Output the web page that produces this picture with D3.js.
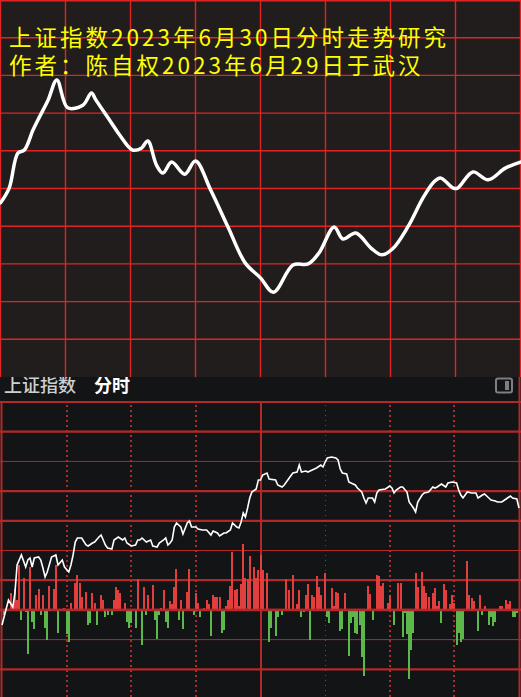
<!DOCTYPE html>
<html><head><meta charset="utf-8">
<script src="https://cdn.jsdelivr.net/npm/d3@7"></script>
<style>html,body{margin:0;padding:0;background:#131416;overflow:hidden}</style>
</head><body>
<svg id="c" width="521" height="697"></svg>
<script>
// ---------- DATA ----------
const titleLines = ["上证指数2023年6月30日分时走势研究", "作者：陈自权2023年6月29日于武汉"];
const panelTitle = "上证指数";
const panelMode = "分时";

// Forecast curve (top panel): minute of session, index level
const forecastMinutes = [0,4,8,11,15,18,22,26,31,38,42,44,51,55,61,65,68,72,75,79,85,90,97,105,113,120,126,135,142,147,154,158,164,171,176,181,188,195,200,203,209,211,218,225,233,240];
const forecastValues = [3196.2,3200.1,3209.4,3210.2,3215.5,3219.0,3223.5,3228.8,3221.4,3222.1,3225.3,3223.5,3217.6,3214.2,3210.2,3210.7,3212.6,3206.2,3204.1,3207.0,3203.8,3207.3,3199.6,3189.8,3180.2,3176.3,3172.5,3179.7,3180.0,3182.9,3189.8,3186.6,3188.2,3184.2,3182.4,3184.0,3189.8,3197.5,3201.7,3202.8,3200.1,3200.1,3204.4,3202.3,3205.4,3207.0];

// Actual intraday price (bottom panel)
const priceMinutes = [0,3,5,6,7,9,11,12,13,14,15,17,18,19,20,21,23,25,26,28,29,31,32,33,34,35,37,39,40,42,43,45,46,47,48,49,51,52,54,56,57,58,60,62,63,64,65,67,69,70,72,73,75,76,77,78,79,80,81,83,84,86,87,88,90,91,93,95,97,98,100,101,103,104,106,107,109,110,111,112,113,114,115,116,118,119,120,121,123,124,127,128,130,131,133,135,137,138,139,141,142,144,146,148,149,150,151,153,155,156,157,158,160,161,162,164,165,167,168,169,170,172,173,174,175,178,180,181,182,183,185,186,188,189,191,192,193,195,196,198,200,201,202,204,206,207,209,211,212,213,214,216,218,220,221,223,224,226,227,229,230,232,234,236,237,239,240];
const priceValues = [3174.0,3179.0,3177.6,3180.4,3186.0,3188.0,3185.6,3187.0,3187.4,3185.6,3187.4,3187.6,3187.0,3185.4,3183.6,3184.6,3187.6,3188.0,3186.0,3187.0,3185.6,3184.6,3186.0,3188.0,3190.6,3191.4,3191.4,3190.0,3189.8,3190.4,3190.6,3191.6,3192.0,3191.0,3190.0,3189.4,3189.2,3191.0,3191.6,3191.0,3191.4,3190.4,3189.8,3190.0,3191.0,3191.0,3191.4,3190.6,3191.0,3189.8,3189.6,3190.4,3191.0,3191.4,3190.0,3190.4,3191.0,3193.6,3194.4,3193.6,3192.2,3194.4,3194.8,3193.6,3193.6,3193.2,3193.0,3193.0,3192.0,3192.8,3192.4,3191.8,3192.4,3192.4,3193.0,3194.4,3193.6,3193.4,3194.6,3196.4,3195.6,3197.4,3199.4,3200.6,3201.2,3203.0,3203.0,3204.0,3204.4,3203.2,3203.0,3202.0,3201.6,3202.0,3203.2,3204.4,3204.6,3206.0,3204.6,3204.8,3204.6,3205.0,3205.4,3206.0,3205.6,3206.6,3207.4,3207.6,3207.4,3207.0,3205.2,3204.4,3204.2,3202.6,3202.4,3202.0,3201.4,3200.6,3199.4,3198.4,3199.4,3199.4,3198.6,3200.4,3201.0,3201.2,3201.8,3201.4,3200.4,3201.0,3201.6,3201.6,3200.6,3198.6,3197.4,3196.6,3198.6,3200.0,3200.4,3200.6,3201.6,3201.4,3201.6,3202.2,3201.6,3202.4,3202.6,3202.4,3201.0,3200.0,3199.4,3200.6,3200.4,3200.4,3199.4,3200.0,3200.2,3199.4,3199.0,3198.8,3198.6,3198.6,3199.2,3199.8,3199.4,3199.2,3197.4];

// Signed volume bars (positive = red, negative = green)
const barMinutes = [1,4,5,6,7,8,9,10,11,12,13,14,15,16,17,18,19,20,21,22,24,25,26,29,30,31,32,34,35,36,37,39,40,41,42,43,44,46,47,48,49,51,52,53,54,55,57,58,59,60,62,63,65,66,67,68,70,71,72,73,74,75,76,77,78,79,80,81,82,83,84,86,87,89,90,91,92,94,95,96,97,98,99,100,101,102,103,104,105,106,107,108,109,110,111,112,113,114,115,117,118,119,120,121,123,124,125,127,128,130,132,133,135,137,138,139,140,141,142,143,144,145,146,147,148,150,151,152,153,154,155,156,157,158,159,161,162,163,164,165,166,167,168,170,171,172,174,175,176,177,179,180,182,184,185,186,187,188,189,190,191,192,193,195,196,197,198,200,201,202,203,204,205,206,208,209,210,211,212,213,214,216,217,218,219,221,222,223,224,226,227,228,229,231,232,234,235,236,237,238,239];
const barValues = [-5,17,6,21,10,45,-10,32,-2,-44,43,-12,-19,15,21,-5,15,-18,-30,24,21,45,-23,2,-24,-32,7,27,35,27,13,18,-15,-13,17,7,-15,15,10,-7,-5,-5,10,23,20,17,7,-12,-18,-13,-18,31,-35,23,-5,15,25,-10,-29,-5,2,20,-12,-18,9,6,23,41,-10,10,-19,18,41,-5,17,7,-7,2,10,6,-26,15,13,13,13,-23,-20,4,10,24,58,20,21,4,26,66,32,31,54,43,32,40,55,40,37,-32,-18,-26,-7,-5,31,20,35,6,20,-7,-2,15,26,-30,15,13,34,23,15,37,-7,-13,22,4,18,17,-21,-19,17,-46,-13,-7,-23,-24,-15,-47,-66,24,16,-10,35,34,24,27,7,15,-15,27,27,-27,-3,-24,-69,-40,-23,37,23,38,24,17,13,17,22,4,9,-13,26,20,6,15,7,-35,-23,-32,-29,49,15,12,9,-21,15,-5,4,-15,-7,-16,-12,4,4,10,6,9,-7,-7,-3];

// ---------- DRAW ----------
const W = 521, H = 697, topH = 377;
const svg = d3.select("#c");

// ===== bottom panel (drawn first, top panel overlays it) =====
const bTop = 402;
svg.append("rect").attr("x",0).attr("y",topH).attr("width",W).attr("height",H-topH).attr("fill","#131416");

const xB = d3.scaleLinear().domain([0,240]).range([2,519]);
const rowY = d3.scaleLinear().domain([0,10]).range([bTop, 699]);
const yP = d3.scaleLinear().domain([3160,3220]).range([695,395]);
const yV = d3.scaleLinear().domain([-100,100]).range([rowY(7)+100, rowY(7)-100]);
const gridRed = "#b3292a";

// horizontal rows
const rows = d3.range(0,10);
svg.append("g").selectAll("line").data(rows).join("line")
  .attr("x1",0).attr("x2",W)
  .attr("y1",d=>rowY(d)).attr("y2",d=>rowY(d))
  .attr("stroke",gridRed)
  .attr("stroke-width",d=> d%3===2 ? 1 : 2.2);

// vertical lines
const dotted = [30,60,90,180,210];
svg.append("g").selectAll("line").data(dotted).join("line")
  .attr("x1",d=>Math.round(xB(d))).attr("x2",d=>Math.round(xB(d)))
  .attr("y1",bTop+3).attr("y2",H)
  .attr("stroke",gridRed).attr("stroke-width",2).attr("stroke-dasharray","2,3");
svg.append("line").attr("x1",Math.round(xB(150))+0.5).attr("x2",Math.round(xB(150))+0.5)
  .attr("y1",bTop+3).attr("y2",H).attr("stroke",gridRed).attr("stroke-width",1).attr("stroke-dasharray","1,4");
svg.append("line").attr("x1",Math.round(xB(120))).attr("x2",Math.round(xB(120)))
  .attr("y1",bTop).attr("y2",H).attr("stroke",gridRed).attr("stroke-width",2);
// borders
svg.append("line").attr("x1",1.5).attr("x2",1.5).attr("y1",bTop).attr("y2",H).attr("stroke",gridRed).attr("stroke-width",2);
svg.append("line").attr("x1",519.5).attr("x2",519.5).attr("y1",topH).attr("y2",H).attr("stroke",gridRed).attr("stroke-width",2);

// bars
const bars = barMinutes.map((m,i)=>({m, v:barValues[i]}));
svg.append("g").attr("shape-rendering","crispEdges").selectAll("rect").data(bars).join("rect")
  .attr("x",d=>xB(d.m)-1)
  .attr("width",2)
  .attr("y",d=> d.v>0 ? yV(d.v) : yV(0))
  .attr("height",d=>Math.abs(yV(d.v)-yV(0)))
  .attr("fill",d=> d.v>0 ? "#e23e3d" : "#5cb84a");

// zero line over bars
svg.append("line").attr("x1",0).attr("x2",W).attr("y1",yV(0)).attr("y2",yV(0))
  .attr("stroke",gridRed).attr("stroke-width",2.5);

// price line
const pts = priceMinutes.map((m,i)=>[m, priceValues[i]]);
svg.append("path").attr("d", d3.line().x(d=>xB(d[0])).y(d=>yP(d[1])).curve(d3.curveLinear)(pts))
  .attr("fill","none").attr("stroke","#ffffff").attr("stroke-width",1.6);

// header
svg.append("text").attr("x",4).attr("y",392).text(panelTitle)
  .attr("font-family","'Noto Sans CJK SC'").attr("font-size",18).attr("font-weight",500).attr("fill","#cfcfcf");
svg.append("text").attr("x",94).attr("y",392).text(panelMode)
  .attr("font-family","'Noto Sans CJK SC'").attr("font-size",18).attr("font-weight","bold").attr("fill","#ffffff");
// toggle icon
svg.append("rect").attr("x",496).attr("y",378.5).attr("width",16).attr("height",14).attr("rx",2)
  .attr("fill","none").attr("stroke","#7d7f82").attr("stroke-width",2);
svg.append("rect").attr("x",505).attr("y",381).attr("width",4).attr("height",9).attr("fill","#7d7f82");

// ===== top panel =====
const topG = svg.append("g");
topG.append("rect").attr("x",0).attr("y",0).attr("width",W).attr("height",topH).attr("fill","#211d1c");
const xT = d3.scaleLinear().domain([0,240]).range([0.5,520.5]);
const yT = d3.scaleLinear().domain([3150,3250]).range([topH,0]);
const topRed = "#e02424";
topG.append("g").selectAll("line").data(d3.range(0,241,30)).join("line")
  .attr("x1",d=>xT(d)).attr("x2",d=>xT(d)).attr("y1",0).attr("y2",topH)
  .attr("stroke",topRed).attr("stroke-width",1.4);
topG.append("g").selectAll("line").data(d3.range(3160,3251,10)).join("line")
  .attr("x1",0).attr("x2",W).attr("y1",d=>Math.max(0.7,yT(d))).attr("y2",d=>Math.max(0.7,yT(d)))
  .attr("stroke",topRed).attr("stroke-width",1.4);

// titles: one text block with two lines
const title = topG.append("text")
  .attr("font-family","'Noto Sans CJK SC'").attr("font-size",22.5)
  .attr("letter-spacing",3).attr("fill","#ffff00");
title.selectAll("tspan").data(titleLines).join("tspan")
  .attr("x",9).attr("y",(d,i)=>46+i*27.5).text(d=>d);

// forecast curve
const fpts = forecastMinutes.map((m,i)=>[m, forecastValues[i]]);
topG.append("path").attr("d", d3.line().x(d=>xT(d[0])).y(d=>yT(d[1])).curve(d3.curveCatmullRom.alpha(0.5))(fpts))
  .attr("fill","none").attr("stroke","#ffffff").attr("stroke-width",3.5)
  .attr("stroke-linejoin","round").attr("stroke-linecap","round");
</script>
</body></html>
